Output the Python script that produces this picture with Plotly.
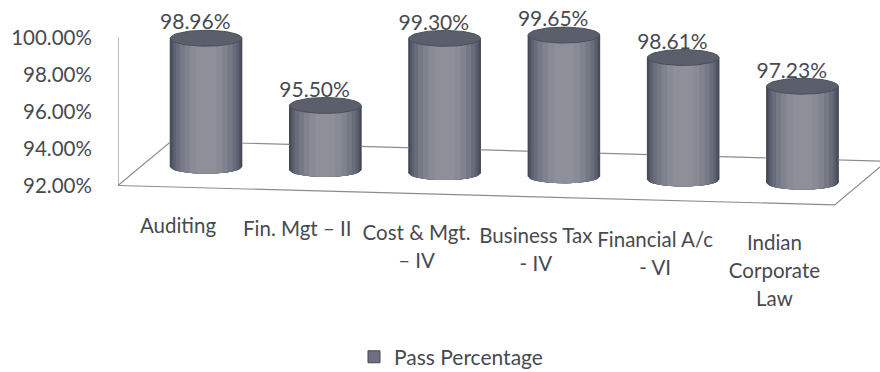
import numpy as np
import plotly.graph_objects as go

categories = [["Auditing"], ["Fin. Mgt – II"], ["Cost & Mgt.", "– IV"], ["Business Tax", "- IV"],
              ["Financial A/c", "- VI"], ["Indian", "Corporate", "Law"]]
pass_pct = [98.96, 95.50, 99.30, 99.65, 98.61, 97.23]
value_ticks = [92, 94, 96, 98, 100]
series_name = "Pass Percentage"

FONT = "Lato"
TXT = "#474a50"
EDGE = "#8a8c90"
PXU = 18.5           # pixels per percentage point
LIFT0, DRIFT = 1.0, 0.173    # pseudo-3D floor offset of each bar (axis units)
HALF_W, RX_TOP = 0.30, 0.43  # cylinder half width (x units), ellipse half height (y units)
RX_BOT = 0.36
FLOOR_Y = 92

idx = np.arange(len(pass_pct))
vals = np.array(pass_pct)
base = FLOOR_Y + LIFT0 - DRIFT * idx
tops = vals + LIFT0 - DRIFT * idx

fig = go.Figure()
# real bars (also supply the legend entry)
fig.add_trace(go.Bar(x=idx, y=vals - FLOOR_Y, base=base, width=2 * HALF_W, name=series_name,
                     marker=dict(color="#6c7080", line=dict(color="#44474f", width=1)),
                     showlegend=True, hoverinfo="skip"))

# floor and wall lines
floor_paths = [
    ([-0.738, -0.738], [92, 100]),
    ([-0.738, 5.27, 5.65], [92, 92 - 1.05, 92 + 1.0]),
    ([-0.738, -0.29, 5.65], [92, 92 + 2.40, 92 + 1.32]),
]
for fx, fy in floor_paths:
    fig.add_trace(go.Scatter(x=fx, y=fy, mode="lines", line=dict(color=EDGE, width=1.2),
                             showlegend=False, hoverinfo="skip"))

# cylinder bodies: nested shading layers
layers = [(1.00, "#444856"), (0.97, "#4f5362"), (0.92, "#5c6070"), (0.85, "#686c7b"),
          (0.74, "#757885"), (0.60, "#80828e"), (0.45, "#888a95"), (0.28, "#8d8f99")]
for frac, col in layers:
    xs, ys = [], []
    for c, b, t in zip(idx, base, tops):
        u = np.linspace(-frac, frac, 25)
        ex = c + HALF_W * u
        top_edge = t - RX_TOP * np.sqrt(1 - u ** 2) * (0.95 if frac < 1 else 0)
        bot_edge = b - RX_BOT * np.sqrt(1 - u ** 2)
        xs += list(ex) + list(ex[::-1]) + [None]
        ys += list(top_edge) + list(bot_edge[::-1]) + [None]
    fig.add_trace(go.Scatter(x=xs, y=ys, mode="lines", fill="toself", fillcolor=col,
                             line=dict(width=0), showlegend=False, hoverinfo="skip"))

# cylinder top ellipses
th = np.linspace(0, 2 * np.pi, 73)
xs, ys = [], []
for c, t in zip(idx, tops):
    xs += list(c + HALF_W * np.cos(th)) + [None]
    ys += list(t + RX_TOP * np.sin(th)) + [None]
fig.add_trace(go.Scatter(x=xs, y=ys, mode="lines", fill="toself", fillcolor="#5b5e6b",
                         line=dict(width=1, color="#4c4f5b"), showlegend=False, hoverinfo="skip"))

# value labels
fig.add_trace(go.Scatter(x=idx - 0.09, y=tops + 14 / PXU, mode="text",
                         text=[f"{v:.2f}%" for v in pass_pct], textposition="middle center",
                         textfont=dict(family=FONT, size=21, color=TXT),
                         cliponaxis=False, showlegend=False, hoverinfo="skip"))

# category labels, one line at a time so they follow the sloping floor
lx, ly, lt = [], [], []
for i, lines in enumerate(categories):
    for k, line in enumerate(lines):
        lx.append(i - 0.235)
        ly.append(FLOOR_Y - (42 + 3.5 * i + 28 * k) / PXU)
        lt.append(line)
fig.add_trace(go.Scatter(x=lx, y=ly, mode="text", text=lt, textposition="middle center",
                         textfont=dict(family=FONT, size=20.5, color=TXT),
                         cliponaxis=False, showlegend=False, hoverinfo="skip"))

fig.update_layout(
    width=880, height=372, autosize=False,
    margin=dict(l=118, r=0, t=0, b=0, autoexpand=False),
    paper_bgcolor="#ffffff", plot_bgcolor="rgba(0,0,0,0)",
    barmode="overlay",
    font=dict(family=FONT, size=20.5, color=TXT),
    legend=dict(orientation="h", x=0.437, y=0.04, xanchor="center", yanchor="middle",
                font=dict(family=FONT, size=21, color=TXT), bgcolor="rgba(0,0,0,0)"),
    xaxis=dict(range=[-0.738, 5.65], visible=False, fixedrange=True),
    yaxis=dict(range=[92 - 186.5 / PXU, 92 + 185.5 / PXU], tickvals=value_ticks,
               ticktext=[f"{v:.2f}%" for v in value_ticks],
               showgrid=False, zeroline=False, showline=False,
               ticks="outside", ticklen=21, tickcolor="rgba(0,0,0,0)",
               tickfont=dict(family=FONT, size=20.5, color=TXT), fixedrange=True),
)
fig.write_html("out.html", config={"displayModeBar": False},
               post_script="document.body.style.margin='0';")
